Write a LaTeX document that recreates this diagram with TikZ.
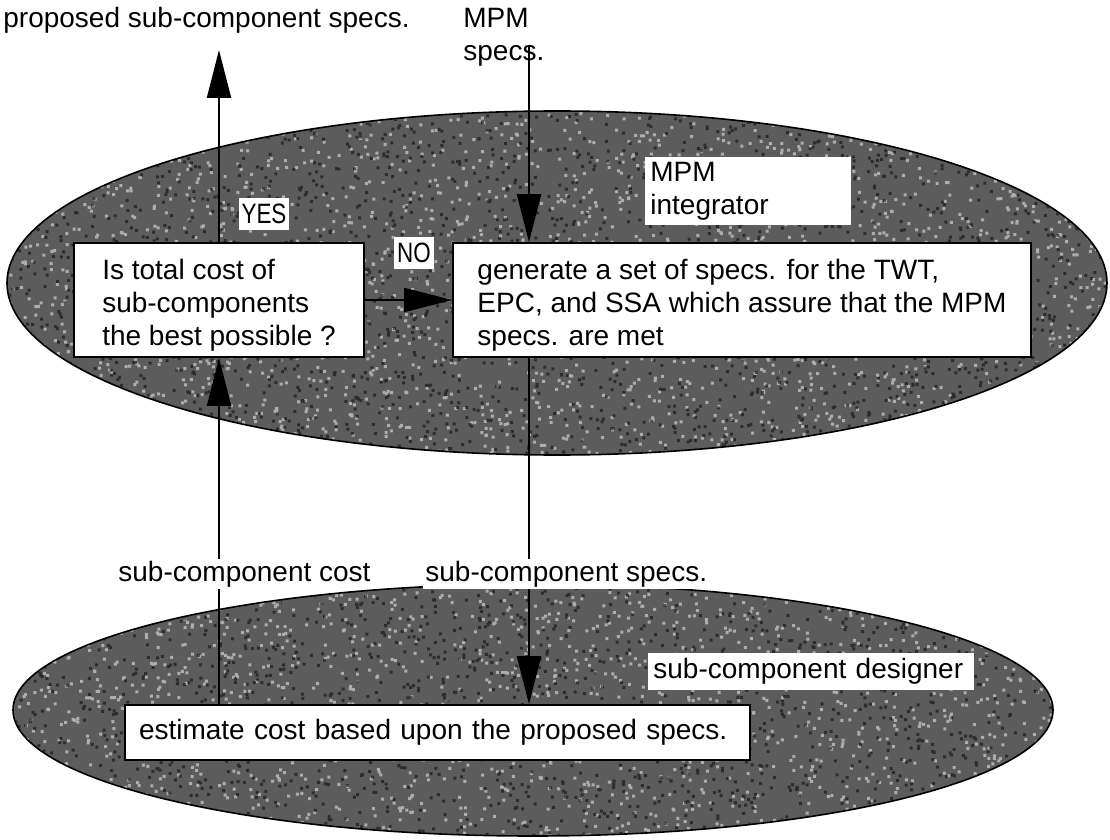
\documentclass[tikz,border=0pt]{standalone}
\usepackage{fontspec}
\setmainfont{Liberation Sans}
\usetikzlibrary{shapes.geometric,arrows.meta}
\newcommand\SubComp{sub-component}

\begin{document}
\begin{tikzpicture}[x=0.5pt,y=-0.5pt,
  font=\fontsize{14pt}{16.5pt}\selectfont,
  blob/.style={ellipse,draw=black,line width=0.8pt,fill=black!64,inner sep=0pt},
  speck/.style={fill=white,opacity=0.5},
  dark/.style={fill=black,opacity=0.5},
  taskbox/.style={rectangle,draw=black,line width=0.8pt,fill=white,align=left,inner ysep=0pt},
  tag/.style={fill=white,align=left},
  flow/.style={line width=1pt,-{Triangle[length=24pt,width=12pt]}}]
\useasboundingbox (0,0) rectangle (1110,840);
\fill[white] (0,0) rectangle (1110,840);
% Drawing ellipses
\node[blob,minimum width=550pt,minimum height=172pt] (integrator) at (557,283) {};
\node[blob,minimum width=520pt,minimum height=126pt] (designer) at (533,710) {};
% speckled texture inside the ellipses
\pgfmathsetseed{42}
\begin{scope}
\clip (integrator.center) ellipse [x radius=549, y radius=171];
\fill[speck] \foreach \k in {1,...,2500} {({8+rnd*1100},{112+rnd*342}) rectangle +(3,3)};
\fill[dark] \foreach \k in {1,...,2500} {({8+rnd*1100},{112+rnd*342}) rectangle +(3,3)};
\end{scope}
\begin{scope}
\clip (designer.center) ellipse [x radius=519, y radius=125];
\fill[speck] \foreach \k in {1,...,1600} {({14+rnd*1040},{585+rnd*250}) rectangle +(3,3)};
\fill[dark] \foreach \k in {1,...,1600} {({14+rnd*1040},{585+rnd*250}) rectangle +(3,3)};
\end{scope}
% Done with ellipses; drawing boxes
\node[taskbox,minimum width=145pt,minimum height=57pt] (check) at (219,300)
  {\rule{0pt}{15pt}Is total cost of\\\SubComp s\\the best possible ?};
\node[taskbox,minimum width=289pt,minimum height=57pt] (generate) at (742,300)
  {\rule{0pt}{15pt}generate a set of specs. for the TWT,\\EPC, and SSA which assure that the MPM\\specs. are met};
\node[taskbox,text width=298.5pt,inner xsep=7pt,minimum height=27.5pt] (estimate) at (437.5,732.5)
  {estimate cost based upon the proposed specs.};
\node[tag,anchor=north west,text width=98pt,inner sep=2.5pt] (intlabel) at (645,157) {MPM\\integrator};
\node[tag,anchor=north west,text width=158pt,inner sep=2.5pt] (deslabel) at (648,653) {\SubComp{} designer};
\node[tag,inner xsep=1.5pt,inner ysep=3pt] (yes) at (264,214) {\scalebox{0.8}[1]{YES}};
\node[tag,inner xsep=1.5pt,inner ysep=3pt] (no) at (414,253) {\scalebox{0.8}[1]{NO}};
% Done with boxes; drawing arrows
\coordinate (proptip) at (219,50);
\coordinate (mpmtop) at (529,45);
\draw[flow] (check.north) -- (proptip);
\draw[flow] (mpmtop) -- (mpmtop |- generate.north);
\draw[flow] (check.east) -- (generate.west);
\draw[flow] (estimate.north -| check.south) -- (check.south);
\draw[flow] (mpmtop |- generate.south) -- (mpmtop |- estimate.north);
% Done with arrows; drawing labels
\node[anchor=west,inner sep=0pt] (proposed) at (3,20) {proposed \SubComp{} specs.};
\node[anchor=north west,align=left,inner sep=0pt] (mpmspecs) at (463,8) {MPM\\specs.};
\node[tag,anchor=west,inner sep=1pt] (costlbl) at (116,574) {\SubComp{} cost};
\node[tag,anchor=west,inner sep=1pt] (specslbl) at (423,574) {\SubComp{} specs.};
\end{tikzpicture}
\end{document}
